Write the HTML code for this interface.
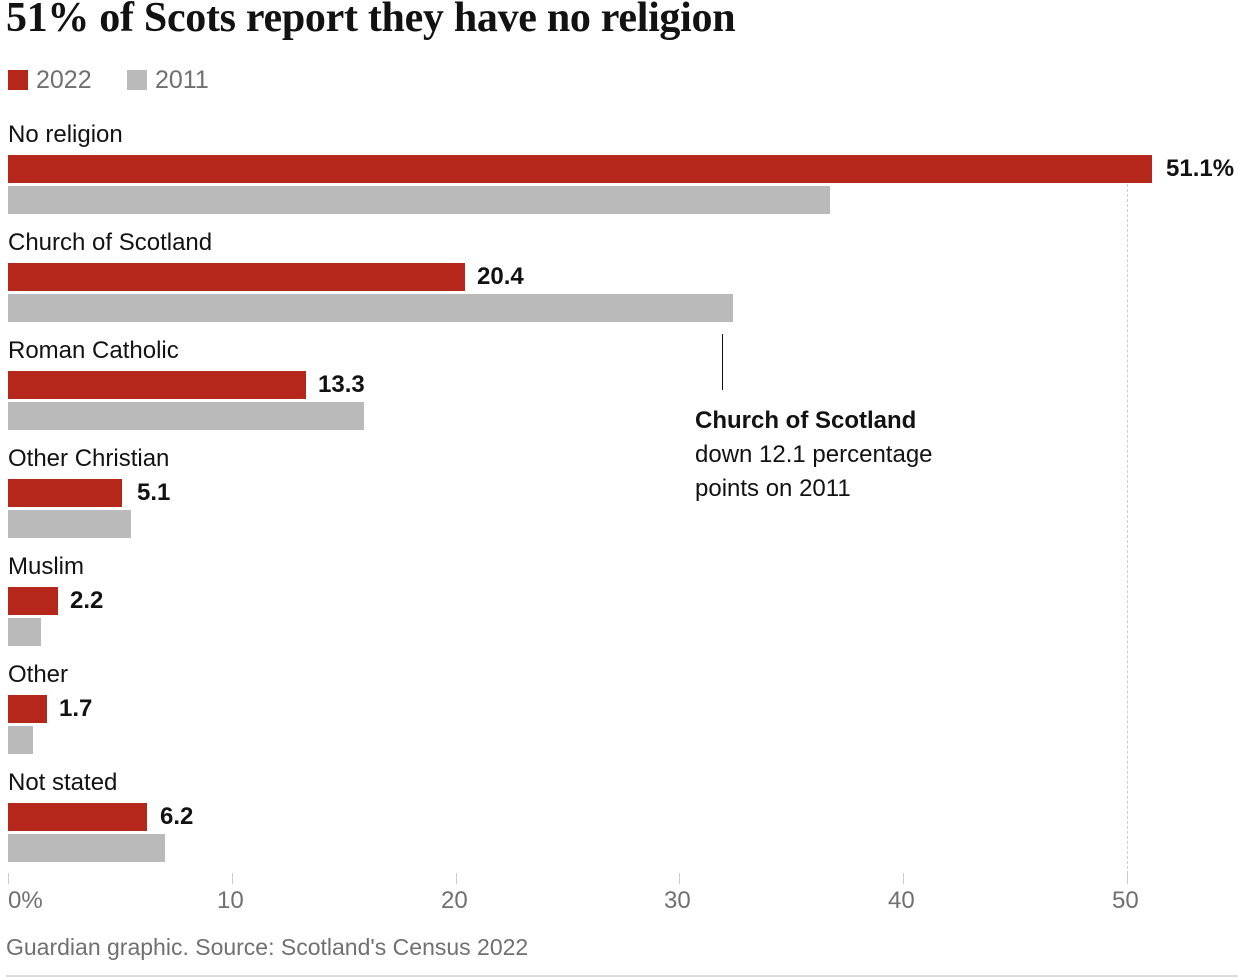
<!DOCTYPE html><html><head><meta charset="utf-8"><style>
body{margin:0;width:1238px;height:980px;background:#fff;position:relative;font-family:"Liberation Sans",sans-serif;overflow:hidden}
div{position:absolute}
.t{font-family:"Liberation Serif",serif;font-weight:bold;font-size:42px;left:6px;top:-6px;letter-spacing:-0.3px;color:#121212;white-space:nowrap}
.lab{left:8px;font-size:24px;color:#121212;white-space:nowrap}
.r{left:8px;height:28px;background:#b5261b}
.g{left:8px;height:28px;background:#bababa}
.v{font-size:24px;font-weight:bold;color:#121212}
.tk{top:873px;width:1px;height:11px;background:#ccc}
.ax{top:887px;font-size:24px;color:#707070}
</style></head><body>
<div class="t">51% of Scots report they have no religion</div>
<div style="left:8px;top:70px;width:20px;height:20px;background:#b5261b"></div>
<div style="left:36px;top:66px;font-size:25px;color:#707070">2022</div>
<div style="left:127px;top:70px;width:20px;height:20px;background:#bababa"></div>
<div style="left:155px;top:66px;font-size:25px;color:#707070">2011</div>
<div style="left:1127px;top:184px;height:690px;border-left:1px dashed #ccc"></div>

<div class="lab" style="top:121px">No religion</div>
<div class="r" style="top:155px;width:1144px"></div><div class="g" style="top:186px;width:822px"></div>
<div class="v" style="left:1166px;top:155px">51.1%</div>

<div class="lab" style="top:229px">Church of Scotland</div>
<div class="r" style="top:263px;width:457px"></div><div class="g" style="top:294px;width:725px"></div>
<div class="v" style="left:477px;top:263px">20.4</div>

<div class="lab" style="top:337px">Roman Catholic</div>
<div class="r" style="top:371px;width:298px"></div><div class="g" style="top:402px;width:356px"></div>
<div class="v" style="left:318px;top:371px">13.3</div>

<div class="lab" style="top:445px">Other Christian</div>
<div class="r" style="top:479px;width:114px"></div><div class="g" style="top:510px;width:123px"></div>
<div class="v" style="left:137px;top:479px">5.1</div>

<div class="lab" style="top:553px">Muslim</div>
<div class="r" style="top:587px;width:50px"></div><div class="g" style="top:618px;width:33px"></div>
<div class="v" style="left:70px;top:587px">2.2</div>

<div class="lab" style="top:661px">Other</div>
<div class="r" style="top:695px;width:39px"></div><div class="g" style="top:726px;width:25px"></div>
<div class="v" style="left:59px;top:695px">1.7</div>

<div class="lab" style="top:769px">Not stated</div>
<div class="r" style="top:803px;width:139px"></div><div class="g" style="top:834px;width:157px"></div>
<div class="v" style="left:160px;top:803px">6.2</div>

<div style="left:722px;top:334px;width:1px;height:56px;background:#121212"></div>
<div style="left:695px;top:404px;font-size:24px;line-height:34px;color:#121212;white-space:nowrap"><b>Church of Scotland</b><br>down 12.1 percentage<br>points on 2011</div>

<div class="tk" style="left:8px"></div><div class="tk" style="left:232px"></div><div class="tk" style="left:456px"></div><div class="tk" style="left:679px"></div><div class="tk" style="left:903px"></div><div class="tk" style="left:1127px"></div>
<div class="ax" style="left:8px">0%</div><div class="ax" style="left:217px">10</div><div class="ax" style="left:441px">20</div><div class="ax" style="left:664px">30</div><div class="ax" style="left:888px">40</div><div class="ax" style="left:1112px">50</div>
<div style="left:6px;top:934px;font-size:23px;color:#707070;white-space:nowrap">Guardian graphic. Source: Scotland's Census 2022</div>
<div style="left:6px;top:975px;width:1232px;height:2px;background:#dcdcdc"></div>
</body></html>
